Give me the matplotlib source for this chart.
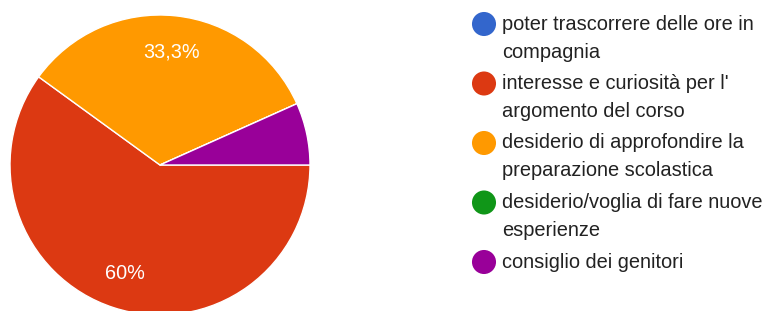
import matplotlib
matplotlib.use("Agg")
import matplotlib.pyplot as plt

plt.rcParams['font.family'] = ['Liberation Sans', 'DejaVu Sans']

# answers and share of responses (%)
labels = ['poter trascorrere delle ore in\ncompagnia',
          "interesse e curiosità per l'\nargomento del corso",
          'desiderio di approfondire la\npreparazione scolastica',
          'desiderio/voglia di fare nuove\nesperienze',
          'consiglio dei genitori']
shares = [0, 60, 33.3, 0, 6.7]
colors = ['#3366cc', '#dc3912', '#ff9900', '#109618', '#990099']

W, H = 766, 311
fig = plt.figure(figsize=(W / 100, H / 100), dpi=100)

# pie: centre (160,165) px, radius 150 px
cx, cy, r = 160, 165, 150
ax = fig.add_axes([(cx - r) / W, (H - cy - r) / H, 2 * r / W, 2 * r / H])


def pct(p):
    if p < 10:
        return ''
    s = f'{p:.1f}'.rstrip('0').rstrip('.')
    return s.replace('.', ',') + '%'


wedges, texts, autotexts = ax.pie(
    shares, colors=colors, startangle=0, counterclock=False,
    autopct=pct, pctdistance=0.76, radius=1,
    wedgeprops=dict(edgecolor='white', linewidth=1))
for t in autotexts:
    t.set_color('white')
    t.set_fontsize(14.3)
ax.set_xlim(-1, 1)
ax.set_ylim(-1, 1)
for w in wedges:
    w.set_clip_on(False)

# legend drawn by hand in pixel coords
lax = fig.add_axes([0, 0, 1, 1])
lax.set_xlim(0, W)
lax.set_ylim(H, 0)
lax.axis('off')
y = 24
for lab, col in zip(labels, colors):
    lax.scatter([484], [y], s=300, color=col, edgecolors='none')
    for i, line in enumerate(lab.split('\n')):
        lax.text(502, y + i * 28, line, fontsize=14.4, color='#222222', va='center', ha='left')
    y += 59.5

fig.savefig('out.png', dpi=100)
